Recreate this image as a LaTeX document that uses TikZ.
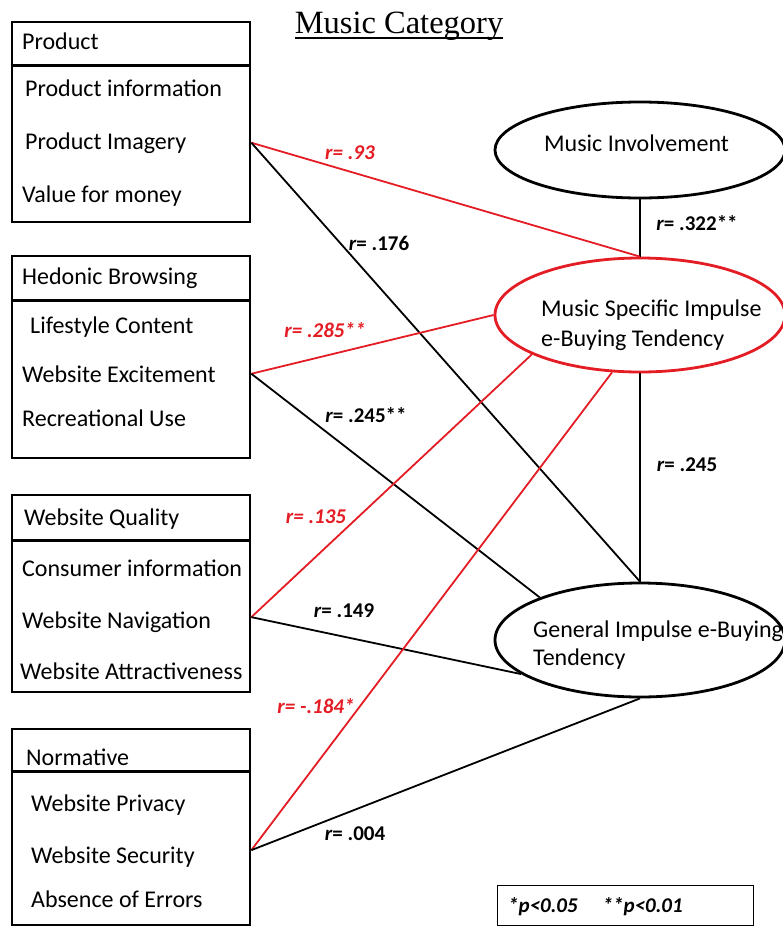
\documentclass[tikz,border=0pt]{standalone}
\usepackage{fontspec}
\setmainfont{Carlito}
\newfontfamily\titlefont{Liberation Serif}
\usepackage{xcolor}
\usetikzlibrary{shapes.geometric,positioning}
\definecolor{sigred}{RGB}{228,28,36}

\begin{document}
\begin{tikzpicture}[
    x=1pt, y=-1pt,
    catbox/.style={rectangle, draw, line width=2.7pt, minimum width=238pt, inner sep=0pt},
    item/.style={anchor=base west, inner sep=0pt, font=\fontsize{24}{29}\selectfont},
    latent/.style={ellipse, draw, line width=2.8pt, minimum width=290pt, inner sep=0pt},
    link/.style={line width=1.8pt},
    sig/.style={link, sigred},
    rlabel/.style={font=\fontsize{21}{25}\selectfont\bfseries, inner sep=0pt}
]
    \useasboundingbox (0,0) rectangle (783,927);

    % Title
    \node[font=\titlefont\fontsize{32.5}{38}\selectfont, anchor=base, inner sep=0pt] (title) at (399,33) {Music Category};
    \draw[line width=1.3pt] ([yshift=-5pt]title.base west) -- ([yshift=-5pt]title.base east);

    % Product
    \node[catbox, minimum height=200pt] (product) at (131,122) {};
    \draw[line width=2.7pt] ([yshift=-45pt]product.north west) -- ([yshift=-45pt]product.north east);
    \node[item] (prodhead) at (22,49) {Product};
    \node[item] (prodinfo) at (25,96) {Product information};
    \node[item] (imagery) at (25,149) {Product Imagery};
    \node[item] (value) at (22,202) {Value for money};

    % Hedonic browsing
    \node[catbox, minimum height=202pt] (hedonic) at (131,357) {};
    \draw[line width=2.7pt] ([yshift=-46pt]hedonic.north west) -- ([yshift=-46pt]hedonic.north east);
    \node[item] (hedhead) at (22,284) {Hedonic Browsing};
    \node[item] (lifestyle) at (30,333) {Lifestyle Content};
    \node[item] (excite) at (22,382) {Website Excitement};
    \node[item] (recreate) at (22,426) {Recreational Use};

    % Website quality
    \node[catbox, minimum height=197pt] (quality) at (131,593.5) {};
    \draw[line width=2.7pt] ([yshift=-47pt]quality.north west) -- ([yshift=-47pt]quality.north east);
    \node[item] (qualhead) at (24,525) {Website Quality};
    \node[item] (consumer) at (22,576) {Consumer information};
    \node[item] (navig) at (22,628) {Website Navigation};
    \node[item] (attract) at (20,679) {Website Attractiveness};

    % Normative
    \node[catbox, minimum height=196pt] (normative) at (131,827) {};
    \draw[line width=2.7pt] ([yshift=-44pt]normative.north west) -- ([yshift=-44pt]normative.north east);
    \node[item] (normhead) at (26,765) {Normative};
    \node[item] (privacy) at (31,811) {Website Privacy};
    \node[item] (security) at (31,863) {Website Security};
    \node[item] (errors) at (31,907) {Absence of Errors};

    % Latent variables
    \node[latent, minimum height=96pt] (musinv) at (640,150) {};
    \node[item] (musinvtxt) at (544,151) {Music Involvement};
    \node[latent, sigred, minimum height=114pt] (msit) at (640,315) {};
    \node[item, align=left, font=\fontsize{24}{30}\selectfont] (msittxt) at (541,346) {Music Specific Impulse\\e-Buying Tendency};
    \node[latent, minimum height=114pt] (git) at (640,640) {};
    \node[item, align=left, font=\fontsize{24}{28}\selectfont] (gittxt) at (533,665) {General Impulse e-Buying\\Tendency};

    % Connectors
    \draw[link] (musinv.south) -- (msit.north);
    \draw[link] (msit.south) -- (git.north);
    \draw[sig] (product.east |- imagery.west) -- (msit.north);
    \draw[link] (product.east |- imagery.west) -- (git.north);
    \draw[sig] (hedonic.east |- excite.west) -- (msit.west);
    \draw[link] (hedonic.east |- excite.west) -- (git.157);
    \draw[sig] ([yshift=-6pt]quality.east |- navig.north) -- (msit.200);
    \draw[link] ([yshift=-6pt]quality.east |- navig.north) -- (git.196);
    \draw[sig] ([yshift=-4pt]normative.east |- security.north) -- (msit.244);
    \draw[link] ([yshift=-4pt]normative.east |- security.north) -- (git.south);

    % Correlations
    \node[rlabel, sigred] (r1) at (350,153) {\textit{r= .93}};
    \node[rlabel] (r2) at (379,243) {\textit{r}= .176};
    \node[rlabel, sigred] (r3) at (325,330) {\textit{r= .285**}};
    \node[rlabel] (r4) at (366,415) {\textit{r}= .245**};
    \node[rlabel] (r5) at (697,223) {\textit{r}= .322**};
    \node[rlabel] (r6) at (687,465) {\textit{r}= .245};
    \node[rlabel, sigred] (r7) at (316,517) {\textit{r= .135}};
    \node[rlabel] (r8) at (344,611) {\textit{r}= .149};
    \node[rlabel, sigred] (r9) at (316,706) {\textit{r= -.184*}};
    \node[rlabel] (r10) at (355,834) {\textit{r}= .004};

    % Legend
    \node[draw, line width=1.2pt, anchor=north west, minimum width=256pt, minimum height=40pt] (legend) at (497,885) {};
    \node[rlabel, anchor=west] (legtxt) at (508,907) {\textit{*p<0.05}\hspace{25pt}\textit{**p<0.01}};
\end{tikzpicture}
\end{document}
